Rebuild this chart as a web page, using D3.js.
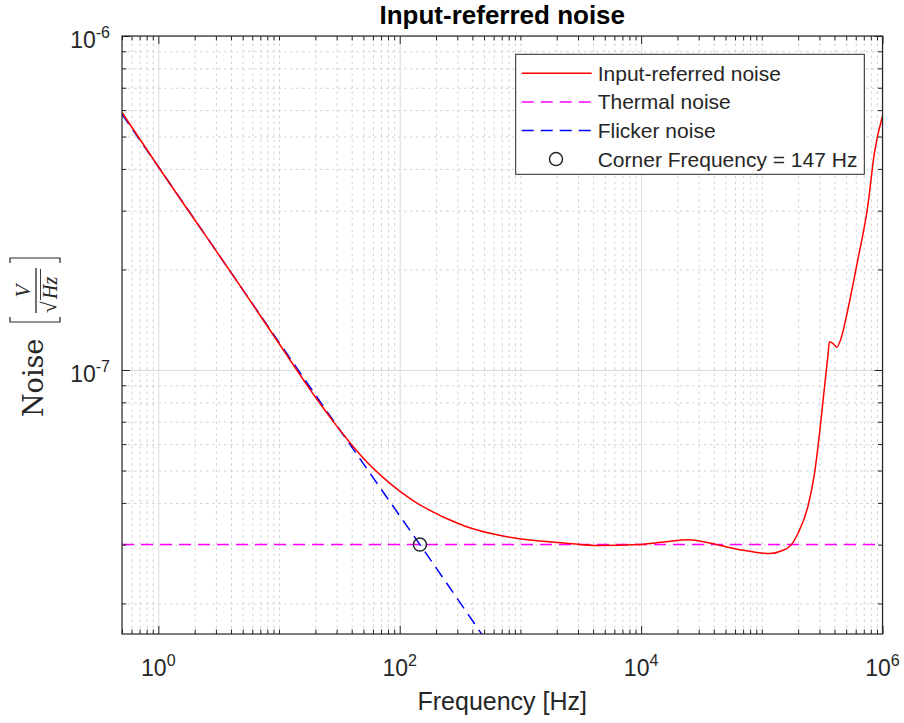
<!DOCTYPE html>
<html>
<head>
<meta charset="utf-8">
<script src="https://cdn.jsdelivr.net/npm/d3@7"></script>
<style>
  body { margin: 0; background: #fff; }
  text { font-family: "Liberation Sans", Arial, Helvetica, sans-serif; fill: #262626; }
</style>
</head>
<body>
<div id="chart"></div>
<script>
// values
const noiseFreq = [0.5, 1, 5, 10, 20, 28, 38.6, 53, 72.7, 100, 137, 188, 258, 354, 667, 1256, 2370, 4460, 9530, 16000, 24650, 36060, 55800, 77100, 117200, 144300, 174500, 199200, 240900, 273600, 300800, 331000, 352400, 363700, 387400, 417900, 453600, 515400, 623400, 754100, 855600, 1000000];
const noiseVal = [5.9e-7, 4.06e-7, 1.74e-7, 1.2e-7, 8.3e-8, 7.03e-8, 6.07e-8, 5.32e-8, 4.77e-8, 4.34e-8, 4.01e-8, 3.76e-8, 3.56e-8, 3.4e-8, 3.2e-8, 3.09e-8, 3.03e-8, 2.98e-8, 3.0e-8, 3.06e-8, 3.1e-8, 3.04e-8, 2.93e-8, 2.87e-8, 2.82e-8, 2.87e-8, 2.99e-8, 3.24e-8, 3.9e-8, 4.91e-8, 6.46e-8, 8.91e-8, 1.096e-7, 1.215e-7, 1.202e-7, 1.17e-7, 1.244e-7, 1.512e-7, 2.134e-7, 3.083e-7, 4.455e-7, 5.76e-7];

const flickerFreq = [0.5, 1, 10, 100, 147, 500];
const flickerVal = [5.83e-7, 4.06e-7, 1.21e-7, 3.66e-8, 3.0e-8, 1.58e-8];

const thermalFreq = [0.5, 1e6];
const thermalVal = [3e-8, 3e-8];

const cornerFreq = [147];
const cornerVal = [3e-8];

const xTickExp = [0, 2, 4, 6];
const yTickExp = [-7, -6];

const legendLabels = ["Input-referred noise", "Thermal noise", "Flicker noise", "Corner Frequency = 147 Hz"];

// set the dimensions
const width = 904;
const height = 723;
const pL = 122, pR = 882.5, pT = 36, pB = 634;

const svg = d3.select("#chart")
  .append("svg")
  .attr("width", width)
  .attr("height", height);

const x = d3.scaleLog().domain([0.5, 1e6]).range([pL, pR]);
const y = d3.scaleLog().domain([1.62e-8, 1e-6]).range([pB, pT]);

// tick positions
const xMajor = xTickExp.map(e => Math.pow(10, e));
const yMajor = yTickExp.map(e => Math.pow(10, e));
const xMinor = [];
for (let k = -1; k <= 5; k++) {
  for (let m = 1; m <= 9; m++) {
    const v = m * Math.pow(10, k);
    if (v >= 0.5 && v <= 1e6 && !(m === 1 && k % 2 === 0)) xMinor.push(v);
  }
}
const yMinor = [];
for (let k = -8; k <= -7; k++) {
  for (let m = 2; m <= 9; m++) {
    const v = m * Math.pow(10, k);
    if (v >= 1.62e-8 && v <= 1e-6) yMinor.push(v);
  }
}

// grid
const grid = svg.append("g");
grid.append("g")
  .attr("transform", `translate(0,${pB})`)
  .call(d3.axisBottom(x).tickValues(xMinor).tickSize(-(pB - pT)).tickFormat(""))
  .call(g => g.select(".domain").remove())
  .selectAll("line").attr("stroke", "#d2d2d2").attr("stroke-dasharray", "2.5,3.5");
grid.append("g")
  .attr("transform", `translate(${pL},0)`)
  .call(d3.axisLeft(y).tickValues(yMinor).tickSize(-(pR - pL)).tickFormat(""))
  .call(g => g.select(".domain").remove())
  .selectAll("line").attr("stroke", "#d2d2d2").attr("stroke-dasharray", "2.5,3.5");
grid.append("g")
  .attr("transform", `translate(0,${pB})`)
  .call(d3.axisBottom(x).tickValues(xMajor).tickSize(-(pB - pT)).tickFormat(""))
  .call(g => g.select(".domain").remove())
  .selectAll("line").attr("stroke", "#dcdcdc");
grid.append("g")
  .attr("transform", `translate(${pL},0)`)
  .call(d3.axisLeft(y).tickValues(yMajor).tickSize(-(pR - pL)).tickFormat(""))
  .call(g => g.select(".domain").remove())
  .selectAll("line").attr("stroke", "#dcdcdc");

// clip for the plotted lines
svg.append("clipPath").attr("id", "clip")
  .append("rect").attr("x", pL).attr("y", pT).attr("width", pR - pL).attr("height", pB - pT);

const plot = svg.append("g").attr("clip-path", "url(#clip)");

const line = d3.line()
  .x(d => x(d[0]))
  .y(d => y(d[1]))
  .curve(d3.curveMonotoneX);

plot.append("path")
  .datum(thermalFreq.map((f, i) => [f, thermalVal[i]]))
  .attr("d", line)
  .attr("fill", "none")
  .attr("stroke", "#ff00ff")
  .attr("stroke-width", 1.5)
  .attr("stroke-dasharray", "12,7");

plot.append("path")
  .datum(flickerFreq.map((f, i) => [f, flickerVal[i]]))
  .attr("d", line)
  .attr("fill", "none")
  .attr("stroke", "#0000ff")
  .attr("stroke-width", 1.5)
  .attr("stroke-dasharray", "12,7");

plot.append("path")
  .datum(noiseFreq.map((f, i) => [f, noiseVal[i]]))
  .attr("d", line)
  .attr("fill", "none")
  .attr("stroke", "#ff0000")
  .attr("stroke-width", 1.5);

plot.selectAll("circle.corner")
  .data(cornerFreq.map((f, i) => [f, cornerVal[i]]))
  .join("circle")
  .attr("class", "corner")
  .attr("cx", d => x(d[0]))
  .attr("cy", d => y(d[1]))
  .attr("r", 6.5)
  .attr("fill", "none")
  .attr("stroke", "#262626")
  .attr("stroke-width", 1.5);

// inward ticks on all four sides
const tickAxes = [
  [d3.axisBottom(x), `translate(0,${pB})`, xMajor, xMinor],
  [d3.axisTop(x), `translate(0,${pT})`, xMajor, xMinor],
  [d3.axisLeft(y), `translate(${pL},0)`, yMajor, yMinor],
  [d3.axisRight(y), `translate(${pR},0)`, yMajor, yMinor]
];
tickAxes.forEach(([ax, tr, maj, min]) => {
  svg.append("g").attr("transform", tr)
    .call(ax.tickValues(min).tickSize(-4.5).tickFormat(""))
    .call(g => g.select(".domain").remove())
    .selectAll("line").attr("stroke", "#262626");
  svg.append("g").attr("transform", tr)
    .call(ax.tickValues(maj).tickSize(-8).tickFormat(""))
    .call(g => g.select(".domain").remove())
    .selectAll("line").attr("stroke", "#262626");
});

// axes box
svg.append("rect")
  .attr("x", pL).attr("y", pT)
  .attr("width", pR - pL).attr("height", pB - pT)
  .attr("fill", "none")
  .attr("stroke", "#262626")
  .attr("stroke-width", 1.2);

// tick labels
const xl = svg.append("g").selectAll("text")
  .data(xTickExp)
  .join("text")
  .attr("x", d => x(Math.pow(10, d)))
  .attr("y", 676)
  .attr("text-anchor", "middle")
  .style("font-size", "23px");
xl.append("tspan").text("10");
xl.append("tspan").attr("dy", -10).style("font-size", "16px").text(d => d);

const yl = svg.append("g").selectAll("text")
  .data(yTickExp)
  .join("text")
  .attr("x", 110)
  .attr("y", d => y(Math.pow(10, d)) + 12)
  .attr("text-anchor", "end")
  .style("font-size", "23px");
yl.append("tspan").text("10");
yl.append("tspan").attr("dy", -10).style("font-size", "16px").text(d => "-" + Math.abs(d));

// title and x label
svg.append("text")
  .attr("x", (pL + pR) / 2)
  .attr("y", 24)
  .attr("text-anchor", "middle")
  .style("font-size", "26px")
  .style("font-weight", "bold")
  .style("fill", "#000")
  .text("Input-referred noise");

svg.append("text")
  .attr("x", (pL + pR) / 2)
  .attr("y", 710)
  .attr("text-anchor", "middle")
  .style("font-size", "25px")
  .text("Frequency [Hz]");

// y label (LaTeX-like)
const ylab = svg.append("g").attr("transform", "translate(35,380) rotate(-90)");
const serif = "'DejaVu Serif', 'Liberation Serif', serif";
ylab.append("text")
  .attr("x", -37).attr("y", 8)
  .style("font-family", serif)
  .style("font-size", "27px")
  .text("Noise");
// brackets
ylab.append("path")
  .attr("d", "M63,-25 L58,-25 L58,25 L63,25 M117,-25 L122,-25 L122,25 L117,25")
  .attr("fill", "none").attr("stroke", "#262626").attr("stroke-width", 1.2);
// fraction
ylab.append("line")
  .attr("x1", 67).attr("x2", 112).attr("y1", 1).attr("y2", 1)
  .attr("stroke", "#262626").attr("stroke-width", 1.3);
ylab.append("text")
  .attr("x", 89).attr("y", -5)
  .attr("text-anchor", "middle")
  .style("font-family", "'Liberation Serif', serif")
  .style("font-style", "italic")
  .style("font-size", "21px")
  .text("V");
ylab.append("text")
  .attr("x", 67).attr("y", 21)
  .style("font-family", "'Liberation Serif', serif")
  .style("font-size", "21px")
  .text("√");
ylab.append("line")
  .attr("x1", 80).attr("x2", 111).attr("y1", 5.5).attr("y2", 5.5)
  .attr("stroke", "#262626").attr("stroke-width", 0.9);
ylab.append("text")
  .attr("x", 81).attr("y", 22)
  .style("font-family", "'Liberation Serif', serif")
  .style("font-style", "italic")
  .style("font-size", "20px")
  .text("Hz");

// legend
const lg = svg.append("g");
lg.append("rect")
  .attr("x", 515.7).attr("y", 54.3)
  .attr("width", 348.6).attr("height", 120)
  .attr("fill", "#fff")
  .attr("stroke", "#262626")
  .attr("stroke-width", 1);
const rowY = i => 73.3 + i * 28.6;
const legStyles = [
  {stroke: "#ff0000", dash: null},
  {stroke: "#ff00ff", dash: "12,7"},
  {stroke: "#0000ff", dash: "12,7"}
];
legStyles.forEach((s, i) => {
  lg.append("line")
    .attr("x1", 521.7).attr("x2", 591.7)
    .attr("y1", rowY(i)).attr("y2", rowY(i))
    .attr("stroke", s.stroke)
    .attr("stroke-width", 1.5)
    .attr("stroke-dasharray", s.dash);
});
lg.append("circle")
  .attr("cx", 556).attr("cy", rowY(3))
  .attr("r", 6.5)
  .attr("fill", "none")
  .attr("stroke", "#262626")
  .attr("stroke-width", 1.5);
lg.selectAll("text.leg")
  .data(legendLabels)
  .join("text")
  .attr("class", "leg")
  .attr("x", 597.7)
  .attr("y", (d, i) => rowY(i) + 7.5)
  .style("font-size", "21px")
  .text(d => d);
</script>
</body>
</html>
